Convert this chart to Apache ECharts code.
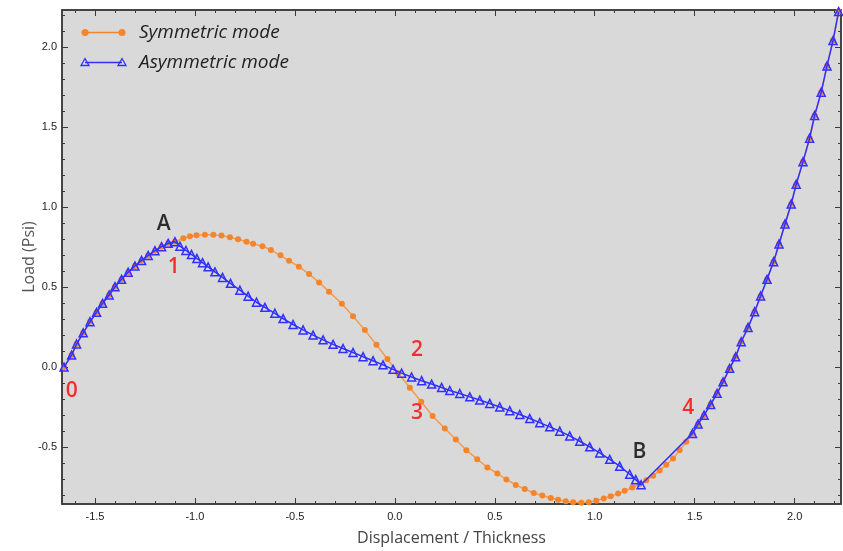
<!DOCTYPE html>
<html>
<head>
<meta charset="utf-8">
<script src="https://cdn.jsdelivr.net/npm/echarts@6/dist/echarts.min.js"></script>
<style>
  html, body { margin: 0; padding: 0; background: #ffffff; }
  #chart { width: 843px; height: 551px; }
</style>
</head>
<body>
<div id="chart"></div>
<script>
// Load path of the symmetric mode (displacement / thickness, load in psi)
const symX = [-1.655,-1.617,-1.592,-1.559,-1.525,-1.492,-1.462,-1.429,-1.4,-1.367,-1.334,-1.3,-1.267,-1.234,-1.2,-1.167,-1.134,-1.1,
  -1.058,-1.025,-0.992,-0.95,-0.908,-0.867,-0.825,-0.784,-0.742,-0.709,-0.662,-0.62,-0.572,-0.529,-0.48,-0.429,-0.379,-0.329,
  -0.265,-0.209,-0.15,-0.092,-0.037,0.017,0.075,0.132,0.189,0.25,0.305,0.358,0.412,0.463,0.513,0.558,0.605,0.65,0.695,0.738,
  0.78,0.817,0.855,0.892,0.933,0.97,1.008,1.045,1.08,1.117,1.15,1.188,1.225,1.258,1.292,1.325,1.358,1.392,1.425,1.458,1.489,
  1.517,1.547,1.58,1.612,1.642,1.675,1.705,1.733,1.767,1.8,1.83,1.862,1.895,1.922,1.952,1.983,2.008,2.042,2.075,2.1,2.133,
  2.162,2.192,2.22];
const symY = [0,0.075,0.144,0.214,0.283,0.342,0.398,0.45,0.502,0.548,0.592,0.631,0.666,0.697,0.727,0.752,0.773,0.783,
  0.804,0.817,0.824,0.827,0.826,0.821,0.811,0.798,0.783,0.771,0.755,0.731,0.698,0.664,0.627,0.581,0.529,0.471,
  0.396,0.317,0.231,0.139,0.05,-0.039,-0.129,-0.217,-0.306,-0.383,-0.452,-0.519,-0.575,-0.627,-0.664,-0.702,-0.736,-0.762,-0.786,-0.802,
  -0.817,-0.829,-0.838,-0.844,-0.847,-0.844,-0.834,-0.82,-0.806,-0.79,-0.773,-0.752,-0.73,-0.706,-0.679,-0.646,-0.61,-0.571,-0.52,-0.467,-0.414,
  -0.356,-0.3,-0.233,-0.164,-0.092,-0.008,0.064,0.158,0.248,0.346,0.444,0.548,0.658,0.769,0.894,1.019,1.142,1.283,1.429,1.571,1.717,
  1.881,2.039,2.22];

// Load path of the asymmetric mode: leaves at A, rejoins at B
const asymX = [-1.655,-1.617,-1.592,-1.559,-1.525,-1.492,-1.462,-1.429,-1.4,-1.367,-1.334,-1.3,-1.267,-1.234,-1.2,-1.167,-1.134,-1.1,
  -1.075,-1.045,-1.017,-0.99,-0.962,-0.934,-0.9,-0.862,-0.822,-0.775,-0.734,-0.692,-0.65,-0.6,-0.559,-0.509,-0.459,-0.409,
  -0.359,-0.309,-0.259,-0.209,-0.159,-0.109,-0.059,-0.009,0.034,0.084,0.134,0.184,0.234,0.275,0.325,0.375,0.425,0.475,0.525,
  0.575,0.625,0.675,0.725,0.775,0.825,0.875,0.925,0.975,1.025,1.075,1.125,1.175,1.205,1.232,
  1.489,1.517,1.547,1.58,1.612,1.642,1.675,1.705,1.733,1.767,1.8,1.83,1.862,1.895,1.922,1.952,1.983,2.008,2.042,2.075,2.1,2.133,
  2.162,2.192,2.22];
const asymY = [0,0.075,0.144,0.214,0.283,0.342,0.398,0.45,0.502,0.548,0.592,0.631,0.666,0.697,0.727,0.752,0.773,0.783,
  0.755,0.728,0.703,0.678,0.652,0.626,0.595,0.56,0.523,0.48,0.443,0.405,0.373,0.336,0.303,0.266,0.232,0.2,
  0.17,0.142,0.116,0.091,0.065,0.04,0.014,-0.014,-0.038,-0.062,-0.085,-0.106,-0.127,-0.146,-0.165,-0.186,-0.206,-0.227,-0.249,
  -0.272,-0.296,-0.321,-0.347,-0.373,-0.4,-0.43,-0.463,-0.498,-0.536,-0.576,-0.619,-0.669,-0.703,-0.735,
  -0.414,-0.356,-0.3,-0.233,-0.164,-0.092,-0.008,0.064,0.158,0.248,0.346,0.444,0.548,0.658,0.769,0.894,1.019,1.142,1.283,1.429,1.571,1.717,
  1.881,2.039,2.22];

// Tick labels
const xTicks = [-1.5, -1.0, -0.5, 0.0, 0.5, 1.0, 1.5, 2.0];
const yTicks = [-0.5, 0.0, 0.5, 1.0, 1.5, 2.0];

// Point markers on the paths
const pointNames = ['A', '1', '2', '3', 'B', '4', '0'];
const pointX = [-1.156, -1.106, 0.111, 0.111, 1.223, 1.468, -1.616];
const pointY = [0.891, 0.626, 0.109, -0.289, -0.528, -0.256, -0.149];
const pointColors = ['#000000', '#ff0000', '#ff0000', '#ff0000', '#000000', '#ff0000', '#ff0000'];

const X_MIN = -1.665, X_MAX = 2.232, Y_MIN = -0.855, Y_MAX = 2.23;

const xMinor = [];
for (let k = -16; k <= 22; k++) xMinor.push(k / 10);
const yMinor = [];
for (let k = -8; k <= 22; k++) yMinor.push(k / 10);

const ORANGE = '#f5852a';
const BLUE = '#3030ff';
const AXIS_COLOR = '#3a3a3a';
const tickFont = { fontFamily: 'Liberation Sans Narrow, Liberation Sans, sans-serif', fontSize: 11, color: '#222' };

function zip(xs, ys) { return xs.map((x, i) => [x, ys[i]]); }

function xAxisDef(gridIndex, position, ticks, tickLen, withLabels) {
  return {
    type: 'value', gridIndex, position, min: X_MIN, max: X_MAX,
    axisLine: { show: gridIndex === 0, onZero: false, lineStyle: { color: AXIS_COLOR, width: 1.5 } },
    axisTick: { show: true, inside: true, length: tickLen, customValues: ticks, lineStyle: { color: AXIS_COLOR, width: 1 } },
    axisLabel: withLabels ? Object.assign({ show: true, customValues: xTicks, margin: 7, formatter: v => v.toFixed(1) }, tickFont) : { show: false },
    splitLine: { show: false }
  };
}
function yAxisDef(gridIndex, position, ticks, tickLen, withLabels) {
  return {
    type: 'value', gridIndex, position, min: Y_MIN, max: Y_MAX,
    axisLine: { show: gridIndex === 0, onZero: false, lineStyle: { color: AXIS_COLOR, width: 1.5 } },
    axisTick: { show: true, inside: true, length: tickLen, customValues: ticks, lineStyle: { color: AXIS_COLOR, width: 1 } },
    axisLabel: withLabels ? Object.assign({ show: true, customValues: yTicks, margin: 5, formatter: v => v.toFixed(1) }, tickFont) : { show: false },
    splitLine: { show: false }
  };
}

const gridBox = { left: 62, right: 2, top: 10, bottom: 47 };

const xAxes = [
  xAxisDef(0, 'bottom', xTicks, 6, true),
  xAxisDef(0, 'top', xTicks, 6, false),
  xAxisDef(1, 'bottom', xMinor, 3, false),
  xAxisDef(1, 'top', xMinor, 3, false)
];
xAxes[0].name = 'Displacement / Thickness';
xAxes[0].nameLocation = 'middle';
xAxes[0].nameGap = 26;
xAxes[0].nameTextStyle = { fontFamily: 'Open Sans, sans-serif', fontSize: 16, color: '#444' };

const yAxes = [
  yAxisDef(0, 'left', yTicks, 6, true),
  yAxisDef(0, 'right', yTicks, 6, false),
  yAxisDef(1, 'left', yMinor, 3, false),
  yAxisDef(1, 'right', yMinor, 3, false)
];
yAxes[0].name = 'Load (Psi)';
yAxes[0].nameLocation = 'middle';
yAxes[0].nameGap = 25;
yAxes[0].nameMoveOverlap = false;
yAxes[0].nameTextStyle = { fontFamily: 'Open Sans, sans-serif', fontSize: 16, color: '#555' };

const chart = echarts.init(document.getElementById('chart'), null, { renderer: 'canvas' });

const legendFont = 'italic 19px "Open Sans", sans-serif';

chart.setOption({
  animation: false,
  backgroundColor: '#ffffff',
  grid: [
    Object.assign({ show: true, backgroundColor: '#d9d9d9', borderColor: AXIS_COLOR, borderWidth: 1.5 }, gridBox),
    Object.assign({ show: false }, gridBox)
  ],
  xAxis: xAxes,
  yAxis: yAxes,
  series: [
    {
      name: 'Symmetric mode', type: 'line', xAxisIndex: 0, yAxisIndex: 0,
      data: zip(symX, symY),
      symbol: 'circle', symbolSize: 6, showAllSymbol: true,
      itemStyle: { color: ORANGE },
      lineStyle: { color: '#f59a4e', width: 1.5 },
      z: 2
    },
    {
      name: 'Asymmetric mode', type: 'line', xAxisIndex: 0, yAxisIndex: 0,
      data: zip(asymX, asymY),
      symbol: 'triangle', symbolSize: 8, showAllSymbol: true,
      itemStyle: { color: 'rgba(0,0,0,0)', borderColor: BLUE, borderWidth: 1.5 },
      lineStyle: { color: BLUE, width: 1.5 },
      z: 3
    },
    {
      name: 'points', type: 'scatter', xAxisIndex: 0, yAxisIndex: 0,
      symbolSize: 0, silent: true, z: 4,
      data: pointNames.map((n, i) => ({
        name: n, value: [pointX[i], pointY[i]],
        label: { color: pointColors[i] }
      })),
      label: {
        show: true, position: 'inside', formatter: '{b}',
        textBorderWidth: 0, textShadowBlur: 0,
        fontFamily: 'Open Sans, sans-serif', fontSize: 21, fontWeight: 600
      }
    }
  ],
  graphic: [
    // legend: symmetric mode
    { type: 'line', shape: { x1: 85, y1: 32.5, x2: 122, y2: 32.5 }, style: { stroke: ORANGE, lineWidth: 1.5 }, z: 10 },
    { type: 'circle', shape: { cx: 85, cy: 32.5, r: 3.5 }, style: { fill: ORANGE }, z: 10 },
    { type: 'circle', shape: { cx: 122, cy: 32.5, r: 3.5 }, style: { fill: ORANGE }, z: 10 },
    { type: 'text', left: 139, top: 23, style: { text: 'Symmetric mode', font: legendFont, fill: '#222' }, z: 10 },
    // legend: asymmetric mode
    { type: 'line', shape: { x1: 85, y1: 62.5, x2: 122, y2: 62.5 }, style: { stroke: BLUE, lineWidth: 1.5 }, z: 10 },
    { type: 'polygon', shape: { points: [[85, 58.5], [89, 65.5], [81, 65.5]] }, style: { fill: 'none', stroke: BLUE, lineWidth: 1.3 }, z: 10 },
    { type: 'polygon', shape: { points: [[122, 58.5], [126, 65.5], [118, 65.5]] }, style: { fill: 'none', stroke: BLUE, lineWidth: 1.3 }, z: 10 },
    { type: 'text', left: 139, top: 53, style: { text: 'Asymmetric mode', font: legendFont, fill: '#222' }, z: 10 }
  ]
});
</script>
</body>
</html>
